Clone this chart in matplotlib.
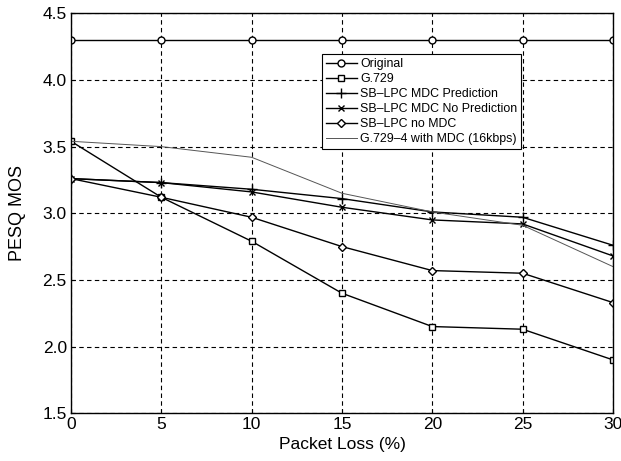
import matplotlib
matplotlib.use("Agg")
import matplotlib.pyplot as plt

plt.rcParams['font.family'] = ['Liberation Sans', 'DejaVu Sans']

# packet loss (%)
loss = [0, 5, 10, 15, 20, 25, 30]

original = [4.30, 4.30, 4.30, 4.30, 4.30, 4.30, 4.30]
g729 = [3.54, 3.12, 2.79, 2.40, 2.15, 2.13, 1.90]
sb_mdc_pred = [3.26, 3.23, 3.18, 3.11, 3.01, 2.97, 2.76]
sb_mdc_nopred = [3.26, 3.23, 3.16, 3.045, 2.95, 2.92, 2.68]
sb_no_mdc = [3.26, 3.12, 2.97, 2.75, 2.57, 2.55, 2.33]
g729_4_mdc = [3.54, 3.50, 3.42, 3.15, 3.01, 2.91, 2.60]

fig = plt.figure(figsize=(6.21, 4.61), dpi=100)
ax = fig.add_axes([0.1143, 0.1037, 0.8727, 0.8674])

ms = 5
ax.plot(loss, original, 'k-', marker='o', mfc='white', ms=ms, lw=1, label='Original')
ax.plot(loss, g729, 'k-', marker='s', mfc='white', ms=ms, lw=1, label='G.729')
ax.plot(loss, sb_mdc_pred, 'k-', marker='+', ms=7, lw=1, label='SB\u2013LPC MDC Prediction')
ax.plot(loss, sb_mdc_nopred, 'k-', marker='x', ms=5, lw=1, label='SB\u2013LPC MDC No Prediction')
ax.plot(loss, sb_no_mdc, 'k-', marker='D', mfc='white', ms=4.5, lw=1, label='SB\u2013LPC no MDC')
ax.plot(loss, g729_4_mdc, '-', color='#555555', lw=0.7, label='G.729\u20134 with MDC (16kbps)')

ax.set_xlim(0, 30)
ax.set_ylim(1.5, 4.5)
ax.set_xticks(loss)
ax.set_yticks([1.5, 2.0, 2.5, 3.0, 3.5, 4.0, 4.5])
ax.yaxis.set_major_formatter(matplotlib.ticker.FormatStrFormatter('%.1f'))
ax.grid(True, color='black', linestyle=(0, (4, 3)), linewidth=0.8)
ax.tick_params(direction='in', length=3, labelsize=12.5, pad=3)
ax.set_xlabel('Packet Loss (%)', fontsize=12.5, labelpad=3)
ax.set_ylabel('PESQ MOS', fontsize=13, labelpad=12)
for s in ax.spines.values():
    s.set_linewidth(1)

leg = ax.legend(loc='upper left', bbox_to_anchor=(0.463, 0.8975), fontsize=8.9,
                frameon=True, fancybox=False, edgecolor='black', framealpha=1,
                handlelength=2.5, handletextpad=0.3, borderpad=0.3, labelspacing=0.25,
                borderaxespad=0)
leg.get_frame().set_linewidth(0.8)

fig.savefig('out.png', dpi=100)
